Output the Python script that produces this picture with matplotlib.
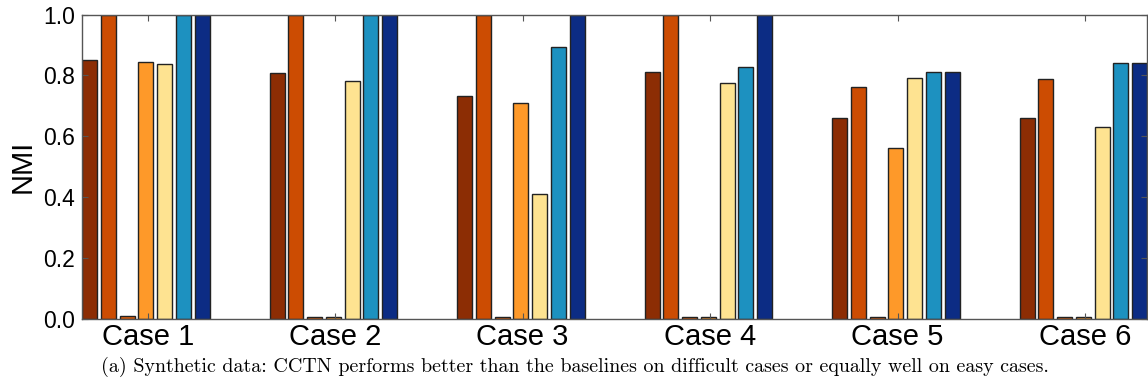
import matplotlib
matplotlib.use("Agg")
import matplotlib.pyplot as plt
import numpy as np

cases = ["Case 1", "Case 2", "Case 3", "Case 4", "Case 5", "Case 6"]
colors = ["#8c2d04", "#cc4c02", "#e0600c", "#fe9929", "#fee391", "#1d91c0", "#0c2c84"]

# one list per method (bar position inside a group), one value per case
m1 = [0.850, 0.808, 0.732, 0.810, 0.660, 0.660]
m2 = [1.000, 1.000, 1.000, 1.000, 0.762, 0.787]
m3 = [0.010, 0.005, 0.005, 0.005, 0.005, 0.005]
m4 = [0.845, 0.005, 0.708, 0.005, 0.560, 0.005]
m5 = [0.837, 0.782, 0.411, 0.776, 0.792, 0.629]
m6 = [1.000, 1.000, 0.894, 0.827, 0.810, 0.840]
m7 = [1.000, 1.000, 1.000, 1.000, 0.810, 0.840]
series = [m1, m2, m3, m4, m5, m6, m7]

caption = ("(a) Synthetic data: CCTN performs better than the baselines "
           "on difficult cases or equally well on easy cases.")

fig = plt.figure(figsize=(11.48, 3.85), dpi=100)
ax = fig.add_axes([82 / 1148, 1 - 319 / 385, 1065 / 1148, (319 - 14.5) / 385])

idx = np.arange(len(cases))
width = 0.08
for k, (vals, c) in enumerate(zip(series, colors)):
    ax.bar(idx + k * 0.1, vals, width, align="edge", color=c,
           edgecolor="#222222", linewidth=1.0)

ax.set_xlim(0, len(cases) - 1 + 0.68)
ax.set_ylim(0, 1.0)
ax.set_xticks(idx + 0.35)
ax.set_xticklabels(cases, fontsize=21, family="Liberation Sans")
ax.set_yticks([0.0, 0.2, 0.4, 0.6, 0.8, 1.0])
ax.set_yticklabels(["0.0", "0.2", "0.4", "0.6", "0.8", "1.0"],
                   fontsize=16.5, family="Liberation Sans")
ax.tick_params(axis="both", direction="in", top=True, right=True,
               length=4, color="#555555")
ax.tick_params(axis="x", pad=3)
ax.tick_params(axis="y", pad=5)
ax.set_ylabel("NMI", fontsize=21, family="Liberation Sans", labelpad=5)
for s in ax.spines.values():
    s.set_color("#555555")
    s.set_linewidth(1.0)

fig.text(575 / 1148, 1 - 367 / 385, caption, ha="center", va="center",
         fontsize=14.4, family="cmr10")

fig.savefig("out.png", dpi=100)
